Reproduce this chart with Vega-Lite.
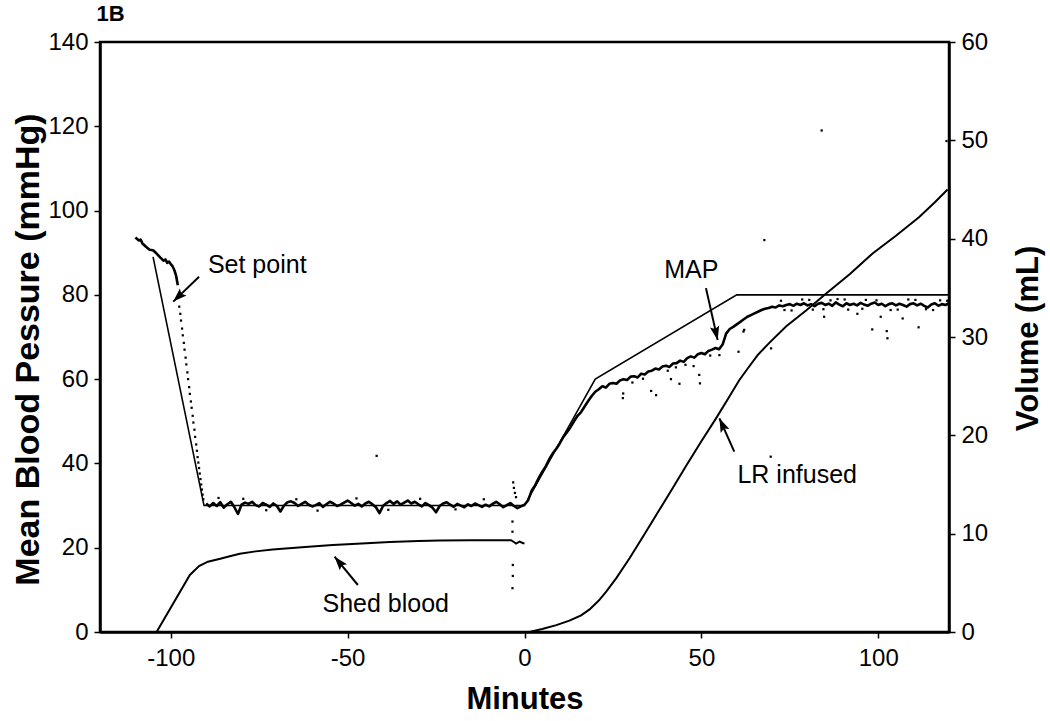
{
  "$schema": "https://vega.github.io/schema/vega-lite/v6.json",
  "width": 849,
  "height": 590,
  "autosize": {"type": "none"},
  "padding": {"left": 100, "top": 42, "right": 101, "bottom": 89},
  "background": "white",
  "config": {
    "font": "Liberation Sans",
    "view": {"stroke": "black", "strokeWidth": 2.5},
    "axis": {
      "grid": false,
      "domainColor": "black",
      "domainWidth": 2.5,
      "tickColor": "black",
      "tickWidth": 1.5,
      "tickSize": 6,
      "labelFont": "Liberation Sans",
      "labelFontSize": 24,
      "labelColor": "black",
      "labelPadding": 6,
      "titleFont": "Liberation Sans",
      "titleFontSize": 31,
      "titleFontWeight": "bold",
      "titleColor": "black"
    }
  },
  "datasets": {
    "map": [
      {"t": -110, "v": 93.6, "seg": "a"}, {"t": -109, "v": 92.9, "seg": "a"}, {"t": -108.5, "v": 93.1, "seg": "a"}, {"t": -108, "v": 92.2, "seg": "a"}, {"t": -107, "v": 91.4, "seg": "a"}, {"t": -106, "v": 90.7, "seg": "a"}, {"t": -105, "v": 90.6, "seg": "a"}, {"t": -104, "v": 89.8, "seg": "a"}, {"t": -103, "v": 88.9, "seg": "a"}, {"t": -102, "v": 88.1, "seg": "a"}, {"t": -101.5, "v": 88.4, "seg": "a"}, {"t": -101, "v": 87.6, "seg": "a"}, {"t": -100.5, "v": 87.9, "seg": "a"}, {"t": -100, "v": 87.3, "seg": "a"}, {"t": -99.5, "v": 86.8, "seg": "a"}, {"t": -99, "v": 85.9, "seg": "a"}, {"t": -98.5, "v": 84.6, "seg": "a"}, {"t": -98, "v": 82.3, "seg": "a"},
      {"t": -90, "v": 30.5, "seg": "b"}, {"t": -89, "v": 29.8, "seg": "b"}, {"t": -88, "v": 30.6, "seg": "b"}, {"t": -87, "v": 29.9, "seg": "b"}, {"t": -86, "v": 30.8, "seg": "b"}, {"t": -85, "v": 29.5, "seg": "b"}, {"t": -84, "v": 30.3, "seg": "b"}, {"t": -83, "v": 30.9, "seg": "b"}, {"t": -82, "v": 29.6, "seg": "b"}, {"t": -81, "v": 28.0, "seg": "b"},
      {"t": -80, "v": 30.2, "seg": "b"}, {"t": -79, "v": 30.7, "seg": "b"}, {"t": -78, "v": 30.4, "seg": "b"}, {"t": -77, "v": 30.9, "seg": "b"}, {"t": -76, "v": 30.1, "seg": "b"}, {"t": -75, "v": 29.8, "seg": "b"}, {"t": -74, "v": 30.6, "seg": "b"}, {"t": -73, "v": 30.2, "seg": "b"}, {"t": -72, "v": 29.7, "seg": "b"}, {"t": -71, "v": 30.5, "seg": "b"},
      {"t": -70, "v": 29.9, "seg": "b"}, {"t": -69, "v": 28.6, "seg": "b"}, {"t": -68, "v": 30.0, "seg": "b"}, {"t": -67, "v": 30.8, "seg": "b"}, {"t": -66, "v": 31.0, "seg": "b"}, {"t": -65, "v": 30.6, "seg": "b"}, {"t": -64, "v": 29.9, "seg": "b"}, {"t": -63, "v": 30.4, "seg": "b"}, {"t": -62, "v": 30.9, "seg": "b"}, {"t": -61, "v": 30.2, "seg": "b"},
      {"t": -60, "v": 29.8, "seg": "b"}, {"t": -59, "v": 30.1, "seg": "b"}, {"t": -58, "v": 30.6, "seg": "b"}, {"t": -57, "v": 29.7, "seg": "b"}, {"t": -56, "v": 30.3, "seg": "b"}, {"t": -55, "v": 30.9, "seg": "b"}, {"t": -54, "v": 30.5, "seg": "b"}, {"t": -53, "v": 29.9, "seg": "b"}, {"t": -52, "v": 30.2, "seg": "b"}, {"t": -51, "v": 30.7, "seg": "b"},
      {"t": -50, "v": 31.2, "seg": "b"}, {"t": -49, "v": 30.6, "seg": "b"}, {"t": -48, "v": 30.0, "seg": "b"}, {"t": -47, "v": 30.4, "seg": "b"}, {"t": -46, "v": 29.8, "seg": "b"}, {"t": -45, "v": 30.5, "seg": "b"}, {"t": -44, "v": 30.9, "seg": "b"}, {"t": -43, "v": 30.3, "seg": "b"}, {"t": -42, "v": 29.6, "seg": "b"}, {"t": -41, "v": 28.2, "seg": "b"},
      {"t": -40, "v": 29.9, "seg": "b"}, {"t": -39, "v": 30.6, "seg": "b"}, {"t": -38, "v": 31.1, "seg": "b"}, {"t": -37, "v": 30.4, "seg": "b"}, {"t": -36, "v": 31.0, "seg": "b"}, {"t": -35, "v": 30.2, "seg": "b"}, {"t": -34, "v": 30.7, "seg": "b"}, {"t": -33, "v": 31.2, "seg": "b"}, {"t": -32, "v": 30.5, "seg": "b"}, {"t": -31, "v": 30.9, "seg": "b"},
      {"t": -30, "v": 30.3, "seg": "b"}, {"t": -29, "v": 29.8, "seg": "b"}, {"t": -28, "v": 30.6, "seg": "b"}, {"t": -27, "v": 30.1, "seg": "b"}, {"t": -26, "v": 29.5, "seg": "b"}, {"t": -25, "v": 28.4, "seg": "b"}, {"t": -24, "v": 29.9, "seg": "b"}, {"t": -23, "v": 30.5, "seg": "b"}, {"t": -22, "v": 30.8, "seg": "b"}, {"t": -21, "v": 30.2, "seg": "b"},
      {"t": -20, "v": 29.7, "seg": "b"}, {"t": -19, "v": 30.4, "seg": "b"}, {"t": -18, "v": 30.0, "seg": "b"}, {"t": -17, "v": 29.6, "seg": "b"}, {"t": -16, "v": 30.3, "seg": "b"}, {"t": -15, "v": 29.9, "seg": "b"}, {"t": -14, "v": 30.5, "seg": "b"}, {"t": -13, "v": 30.1, "seg": "b"}, {"t": -12, "v": 29.7, "seg": "b"}, {"t": -11, "v": 30.2, "seg": "b"},
      {"t": -10, "v": 29.8, "seg": "b"}, {"t": -9, "v": 30.4, "seg": "b"}, {"t": -8, "v": 30.9, "seg": "b"}, {"t": -7, "v": 30.3, "seg": "b"}, {"t": -6, "v": 29.6, "seg": "b"}, {"t": -5, "v": 30.1, "seg": "b"}, {"t": -4, "v": 30.6, "seg": "b"}, {"t": -3, "v": 29.9, "seg": "b"}, {"t": -2, "v": 29.4, "seg": "b"}, {"t": -1, "v": 29.8, "seg": "b"},
      {"t": 0, "v": 30.2, "seg": "b"}, {"t": 1, "v": 31.2, "seg": "b"}, {"t": 2, "v": 33.5, "seg": "b"}, {"t": 3, "v": 34.8, "seg": "b"}, {"t": 4, "v": 36.5, "seg": "b"}, {"t": 5, "v": 38.0, "seg": "b"}, {"t": 6, "v": 39.3, "seg": "b"}, {"t": 7, "v": 41.0, "seg": "b"}, {"t": 8, "v": 42.4, "seg": "b"}, {"t": 9, "v": 43.5, "seg": "b"},
      {"t": 10, "v": 44.8, "seg": "b"}, {"t": 11, "v": 46.3, "seg": "b"}, {"t": 12, "v": 47.4, "seg": "b"}, {"t": 13, "v": 48.6, "seg": "b"}, {"t": 14, "v": 50.0, "seg": "b"}, {"t": 15, "v": 51.3, "seg": "b"}, {"t": 16, "v": 52.2, "seg": "b"}, {"t": 17, "v": 53.5, "seg": "b"}, {"t": 18, "v": 54.8, "seg": "b"}, {"t": 19, "v": 56.0, "seg": "b"},
      {"t": 20, "v": 57.0, "seg": "b"}, {"t": 21, "v": 57.6, "seg": "b"}, {"t": 22, "v": 58.3, "seg": "b"}, {"t": 23, "v": 58.0, "seg": "b"}, {"t": 24, "v": 58.9, "seg": "b"}, {"t": 25, "v": 59.1, "seg": "b"}, {"t": 26, "v": 58.9, "seg": "b"}, {"t": 27, "v": 59.7, "seg": "b"}, {"t": 28, "v": 60.0, "seg": "b"}, {"t": 29, "v": 59.8, "seg": "b"},
      {"t": 30, "v": 60.6, "seg": "b"}, {"t": 31, "v": 60.7, "seg": "b"}, {"t": 32, "v": 60.4, "seg": "b"}, {"t": 33, "v": 61.3, "seg": "b"}, {"t": 34, "v": 61.1, "seg": "b"}, {"t": 35, "v": 61.8, "seg": "b"}, {"t": 36, "v": 62.0, "seg": "b"}, {"t": 37, "v": 62.5, "seg": "b"}, {"t": 38, "v": 62.3, "seg": "b"}, {"t": 39, "v": 63.0, "seg": "b"},
      {"t": 40, "v": 63.2, "seg": "b"}, {"t": 41, "v": 62.9, "seg": "b"}, {"t": 42, "v": 63.7, "seg": "b"}, {"t": 43, "v": 63.8, "seg": "b"}, {"t": 44, "v": 64.4, "seg": "b"}, {"t": 45, "v": 64.1, "seg": "b"}, {"t": 46, "v": 65.0, "seg": "b"}, {"t": 47, "v": 65.4, "seg": "b"}, {"t": 48, "v": 65.1, "seg": "b"}, {"t": 49, "v": 65.9, "seg": "b"},
      {"t": 50, "v": 66.2, "seg": "b"}, {"t": 51, "v": 65.9, "seg": "b"}, {"t": 52, "v": 66.7, "seg": "b"}, {"t": 53, "v": 67.0, "seg": "b"}, {"t": 54, "v": 67.4, "seg": "b"}, {"t": 55, "v": 67.1, "seg": "b"}, {"t": 56, "v": 68.2, "seg": "b"}, {"t": 57, "v": 70.8, "seg": "b"}, {"t": 58, "v": 71.9, "seg": "b"}, {"t": 59, "v": 72.4, "seg": "b"},
      {"t": 60, "v": 73.0, "seg": "b"}, {"t": 61, "v": 73.6, "seg": "b"}, {"t": 62, "v": 74.2, "seg": "b"}, {"t": 63, "v": 74.8, "seg": "b"}, {"t": 64, "v": 75.2, "seg": "b"}, {"t": 65, "v": 75.6, "seg": "b"}, {"t": 66, "v": 76.0, "seg": "b"}, {"t": 67, "v": 76.4, "seg": "b"}, {"t": 68, "v": 76.7, "seg": "b"}, {"t": 69, "v": 76.9, "seg": "b"},
      {"t": 70, "v": 77.2, "seg": "b"}, {"t": 71, "v": 77.0, "seg": "b"}, {"t": 72, "v": 77.5, "seg": "b"}, {"t": 73, "v": 77.3, "seg": "b"}, {"t": 74, "v": 77.6, "seg": "b"}, {"t": 75, "v": 77.8, "seg": "b"}, {"t": 76, "v": 77.4, "seg": "b"}, {"t": 77, "v": 77.9, "seg": "b"}, {"t": 78, "v": 77.6, "seg": "b"}, {"t": 79, "v": 78.0, "seg": "b"},
      {"t": 80, "v": 77.5, "seg": "b"}, {"t": 81, "v": 77.8, "seg": "b"}, {"t": 82, "v": 77.3, "seg": "b"}, {"t": 83, "v": 77.9, "seg": "b"}, {"t": 84, "v": 78.1, "seg": "b"}, {"t": 85, "v": 77.6, "seg": "b"}, {"t": 86, "v": 77.9, "seg": "b"}, {"t": 87, "v": 77.4, "seg": "b"}, {"t": 88, "v": 78.2, "seg": "b"}, {"t": 89, "v": 77.7, "seg": "b"},
      {"t": 90, "v": 77.3, "seg": "b"}, {"t": 91, "v": 78.0, "seg": "b"}, {"t": 92, "v": 77.6, "seg": "b"}, {"t": 93, "v": 77.9, "seg": "b"}, {"t": 94, "v": 77.5, "seg": "b"}, {"t": 95, "v": 78.1, "seg": "b"}, {"t": 96, "v": 77.7, "seg": "b"}, {"t": 97, "v": 77.4, "seg": "b"}, {"t": 98, "v": 77.9, "seg": "b"}, {"t": 99, "v": 78.2, "seg": "b"},
      {"t": 100, "v": 77.6, "seg": "b"}, {"t": 101, "v": 77.9, "seg": "b"}, {"t": 102, "v": 77.3, "seg": "b"}, {"t": 103, "v": 77.8, "seg": "b"}, {"t": 104, "v": 78.0, "seg": "b"}, {"t": 105, "v": 77.5, "seg": "b"}, {"t": 106, "v": 77.9, "seg": "b"}, {"t": 107, "v": 77.6, "seg": "b"}, {"t": 108, "v": 77.2, "seg": "b"}, {"t": 109, "v": 77.8, "seg": "b"},
      {"t": 110, "v": 78.0, "seg": "b"}, {"t": 111, "v": 77.5, "seg": "b"}, {"t": 112, "v": 77.9, "seg": "b"}, {"t": 113, "v": 77.4, "seg": "b"}, {"t": 114, "v": 77.0, "seg": "b"}, {"t": 115, "v": 77.7, "seg": "b"}, {"t": 116, "v": 78.0, "seg": "b"}, {"t": 117, "v": 77.4, "seg": "b"}, {"t": 118, "v": 77.8, "seg": "b"}, {"t": 119, "v": 77.6, "seg": "b"}, {"t": 120, "v": 78.0, "seg": "b"}
    ],
    "mapdots": [
      {"t": -97.6, "v": 77.2}, {"t": -97.3, "v": 75.5}, {"t": -97.1, "v": 73.9}, {"t": -96.8, "v": 72.0}, {"t": -96.6, "v": 70.4}, {"t": -96.3, "v": 68.6}, {"t": -96.1, "v": 67.0}, {"t": -95.8, "v": 65.1}, {"t": -95.6, "v": 63.5}, {"t": -95.3, "v": 61.6},
      {"t": -95.1, "v": 60.0}, {"t": -94.8, "v": 58.1}, {"t": -94.6, "v": 56.5}, {"t": -94.3, "v": 54.7}, {"t": -94.1, "v": 53.2}, {"t": -93.8, "v": 51.3}, {"t": -93.6, "v": 49.7}, {"t": -93.3, "v": 48.0}, {"t": -93.1, "v": 46.3}, {"t": -92.8, "v": 44.5},
      {"t": -92.6, "v": 43.0}, {"t": -92.4, "v": 41.5}, {"t": -92.2, "v": 40.2}, {"t": -92.0, "v": 38.9}, {"t": -91.8, "v": 37.6}, {"t": -91.6, "v": 36.3}, {"t": -91.4, "v": 35.0}, {"t": -91.2, "v": 33.8}, {"t": -91.0, "v": 32.6}, {"t": -90.8, "v": 31.5},
      {"t": -86.5, "v": 31.8}, {"t": -79.5, "v": 31.6}, {"t": -73, "v": 28.9}, {"t": -64.5, "v": 31.5}, {"t": -58.5, "v": 28.8}, {"t": -47.5, "v": 31.7}, {"t": -38.5, "v": 29.0}, {"t": -29.5, "v": 31.6}, {"t": -19.5, "v": 29.1}, {"t": -11.5, "v": 31.5},
      {"t": -3.2, "v": 35.5}, {"t": -3.0, "v": 34.2}, {"t": -2.7, "v": 33.0}, {"t": -2.4, "v": 32.0}, {"t": -3.4, "v": 26.2}, {"t": -3.4, "v": 23.8}, {"t": -3.3, "v": 15.9}, {"t": -3.3, "v": 13.3}, {"t": -3.4, "v": 10.4}, {"t": -41.8, "v": 41.8},
      {"t": 27.8, "v": 55.5}, {"t": 27.9, "v": 56.6}, {"t": 35.8, "v": 57.2}, {"t": 37.2, "v": 56.2}, {"t": 41.4, "v": 60.0}, {"t": 43.8, "v": 58.9}, {"t": 42.8, "v": 62.8}, {"t": 49.6, "v": 59.0}, {"t": 49.4, "v": 61.0}, {"t": 47.8, "v": 63.1},
      {"t": 55.1, "v": 65.7}, {"t": 60.5, "v": 66.5}, {"t": 62.1, "v": 71.7}, {"t": 69.7, "v": 67.3}, {"t": 69.6, "v": 41.6}, {"t": 61.9, "v": 71.3}, {"t": 98.3, "v": 71.8}, {"t": 102.4, "v": 71.4}, {"t": 102.6, "v": 69.7}, {"t": 111.4, "v": 72.3},
      {"t": 106.9, "v": 74.4}, {"t": 84.7, "v": 74.8}, {"t": 100.7, "v": 74.8}, {"t": 94.1, "v": 75.5}, {"t": 67.8, "v": 93.0}, {"t": 84.0, "v": 119.0}, {"t": 119.3, "v": 116.5},
      {"t": 72.5, "v": 78.6}, {"t": 78.5, "v": 78.9}, {"t": 86.5, "v": 78.7}, {"t": 91.5, "v": 76.5}, {"t": 96.5, "v": 78.8}, {"t": 103.5, "v": 76.4}, {"t": 108.5, "v": 78.9}, {"t": 113.5, "v": 76.6}, {"t": 117.5, "v": 78.7}, {"t": 75.5, "v": 76.3},
      {"t": 81.5, "v": 76.5}, {"t": 88.5, "v": 79.0}, {"t": 30.5, "v": 59.2}, {"t": 40.5, "v": 62.0}, {"t": 52.5, "v": 65.6}, {"t": 33.5, "v": 60.1}, {"t": 45.5, "v": 63.4},
      {"t": 73.5, "v": 76.4}, {"t": 80.5, "v": 78.8}, {"t": 84.5, "v": 76.6}, {"t": 90.5, "v": 78.9}, {"t": 95.5, "v": 76.7}, {"t": 99.5, "v": 78.7}, {"t": 105.5, "v": 76.5}, {"t": 110.5, "v": 78.8}, {"t": 115.5, "v": 76.4}, {"t": 119.5, "v": 78.6}
    ],
    "setpoint": [
      {"t": -105, "v": 89}, {"t": -90.6, "v": 30}, {"t": 0, "v": 30}, {"t": 20, "v": 60}, {"t": 60, "v": 80}, {"t": 120, "v": 80}
    ],
    "shed": [
      {"t": -104, "v": 0}, {"t": -94.6, "v": 5.8}, {"t": -92, "v": 6.7}, {"t": -89.5, "v": 7.15}, {"t": -86, "v": 7.45}, {"t": -83.3, "v": 7.7}, {"t": -80.5, "v": 7.95}, {"t": -76, "v": 8.2}, {"t": -71.2, "v": 8.4}, {"t": -62, "v": 8.65},
      {"t": -54.2, "v": 8.85}, {"t": -46, "v": 9.0}, {"t": -38.1, "v": 9.15}, {"t": -30, "v": 9.25}, {"t": -24, "v": 9.3}, {"t": -15, "v": 9.32}, {"t": -3.8, "v": 9.33}, {"t": -2.8, "v": 9.1}, {"t": -2.4, "v": 9.0}, {"t": -1.4, "v": 9.2}, {"t": -0.5, "v": 9.05}, {"t": 0, "v": 9.0}
    ],
    "lr": [
      {"t": 1.4, "v": 0}, {"t": 5, "v": 0.3}, {"t": 9, "v": 0.7}, {"t": 12.7, "v": 1.15}, {"t": 16, "v": 1.7}, {"t": 18.4, "v": 2.3}, {"t": 21, "v": 3.2}, {"t": 23.1, "v": 4.1}, {"t": 26, "v": 5.5}, {"t": 29.7, "v": 7.5},
      {"t": 34, "v": 10.0}, {"t": 38.1, "v": 12.4}, {"t": 42, "v": 14.7}, {"t": 45.7, "v": 16.9}, {"t": 50, "v": 19.4}, {"t": 54.1, "v": 21.7}, {"t": 57.5, "v": 23.7}, {"t": 60.7, "v": 25.6}, {"t": 63.1, "v": 26.8}, {"t": 66, "v": 28.2},
      {"t": 69.2, "v": 29.4}, {"t": 74, "v": 31.1}, {"t": 79.6, "v": 32.7}, {"t": 85.2, "v": 34.4}, {"t": 92, "v": 36.4}, {"t": 98.4, "v": 38.5}, {"t": 105, "v": 40.3}, {"t": 111.6, "v": 42.2}, {"t": 116, "v": 43.7}, {"t": 119.6, "v": 45.0}
    ],
    "labels": [
      {"label": "Set point", "t": -89.5, "v": 85.2},
      {"label": "MAP", "t": 39.5, "v": 84.0},
      {"label": "Shed blood", "t": -57.1, "v": 4.75},
      {"label": "LR infused", "t": 60.2, "v": 35.4}
    ],
    "panel": [
      {"label": "1B", "t": -121, "v": 145}
    ],
    "arrows": [
      {"label": "Set point", "t": -99.3, "v": 78.4, "t2": -92.0, "v2": 84.3},
      {"label": "MAP", "t": 54.6, "v": 69.3, "t2": 51.3, "v2": 81.6},
      {"label": "Shed blood", "t": -53.7, "v": 17.87, "t2": -47.1, "v2": 11.15},
      {"label": "LR infused", "t": 55.1, "v": 50.7, "t2": 59.3, "v2": 42.8}
    ]
  },
  "encoding": {
    "x": {
      "field": "t",
      "type": "quantitative",
      "scale": {"domain": [-120, 120], "nice": false, "zero": false},
      "axis": {
        "values": [-100, -50, 0, 50, 100],
        "labelExpr": "'' + datum.value",
        "title": "Minutes",
        "titlePadding": 14,
        "labelPadding": 8
      }
    }
  },
  "layer": [
    {
      "encoding": {
        "y": {
          "field": "v",
          "type": "quantitative",
          "scale": {"domain": [0, 140], "nice": false, "zero": false},
          "axis": {
            "orient": "left",
            "values": [0, 20, 40, 60, 80, 100, 120, 140],
            "title": "Mean Blood Pessure (mmHg)",
            "titleFontSize": 34,
            "titleX": -55,
            "titleY": 307,
            "titleAlign": "center",
            "titleBaseline": "bottom",
            "titleAngle": 270
          }
        }
      },
      "layer": [
        {
          "data": {"name": "setpoint"},
          "mark": {"type": "line", "color": "black", "strokeWidth": 1.6},
          "encoding": {}
        },
        {
          "data": {"name": "map"},
          "mark": {"type": "line", "color": "black", "strokeWidth": 2.6, "strokeJoin": "round"},
          "encoding": {"detail": {"field": "seg", "type": "nominal"}}
        },
        {
          "data": {"name": "mapdots"},
          "mark": {"type": "square", "color": "black", "size": 5, "opacity": 1},
          "encoding": {}
        },
        {
          "data": {"name": "labels"},
          "mark": {"type": "text", "align": "left", "baseline": "alphabetic", "fontSize": 25, "font": "Liberation Sans", "color": "black"},
          "encoding": {"text": {"field": "label"}}
        },
        {
          "data": {"name": "panel"},
          "mark": {"type": "text", "align": "left", "baseline": "alphabetic", "fontSize": 22, "fontWeight": "bold", "font": "Liberation Sans", "color": "black"},
          "encoding": {"text": {"field": "label"}}
        },
        {
          "data": {"name": "arrows"},
          "mark": {"type": "rule", "color": "black", "strokeWidth": 2},
          "encoding": {"x2": {"field": "t2"}, "y2": {"field": "v2"}}
        },
        {
          "data": {"name": "arrows"},
          "transform": [{"filter": "datum.label == 'Set point'"}],
          "mark": {"type": "point", "shape": "M0,0L-0.55,1.6L0,1.3L0.55,1.6Z", "filled": true, "color": "black", "opacity": 1, "size": 300, "angle": 226},
          "encoding": {}
        },
        {
          "data": {"name": "arrows"},
          "transform": [{"filter": "datum.label == 'MAP'"}],
          "mark": {"type": "point", "shape": "M0,0L-0.55,1.6L0,1.3L0.55,1.6Z", "filled": true, "color": "black", "opacity": 1, "size": 300, "angle": 167},
          "encoding": {}
        },
        {
          "data": {"name": "arrows"},
          "transform": [{"filter": "datum.label == 'Shed blood'"}],
          "mark": {"type": "point", "shape": "M0,0L-0.55,1.6L0,1.3L0.55,1.6Z", "filled": true, "color": "black", "opacity": 1, "size": 300, "angle": 320},
          "encoding": {}
        },
        {
          "data": {"name": "arrows"},
          "transform": [{"filter": "datum.label == 'LR infused'"}],
          "mark": {"type": "point", "shape": "M0,0L-0.55,1.6L0,1.3L0.55,1.6Z", "filled": true, "color": "black", "opacity": 1, "size": 300, "angle": 336},
          "encoding": {}
        }
      ]
    },
    {
      "encoding": {
        "y": {
          "field": "v",
          "type": "quantitative",
          "scale": {"domain": [0, 60], "nice": false, "zero": false},
          "axis": {
            "orient": "right",
            "values": [0, 10, 20, 30, 40, 50, 60],
            "title": "Volume (mL)",
            "titleAngle": 270,
            "titleX": 64,
            "titleY": 296,
            "titleAlign": "center",
            "titleBaseline": "top"
          }
        }
      },
      "layer": [
        {
          "data": {"name": "shed"},
          "mark": {"type": "line", "color": "black", "strokeWidth": 2},
          "encoding": {}
        },
        {
          "data": {"name": "lr"},
          "mark": {"type": "line", "color": "black", "strokeWidth": 2},
          "encoding": {}
        }
      ]
    }
  ],
  "resolve": {"scale": {"y": "independent"}}
}
